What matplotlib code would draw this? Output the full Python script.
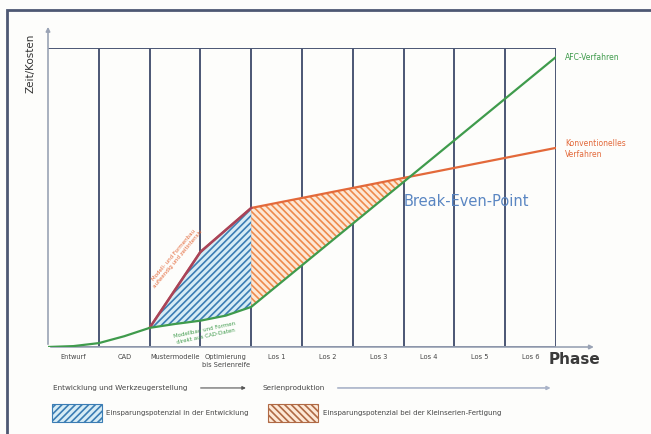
import matplotlib.pyplot as plt
from matplotlib.patches import Rectangle
import numpy as np

# phases (columns) and curve values (y: 0..100 of plot height)
phases = ["Entwurf", "CAD", "Mustermodelle", "Optimierung\nbis Serienreife",
          "Los 1", "Los 2", "Los 3", "Los 4", "Los 5", "Los 6"]

afc_x = [0, 0.5, 1, 1.5, 2, 2.5, 3, 3.5, 4, 10]
afc_y = [0, 0.3, 1.3, 3.6, 6.4, 7.7, 8.8, 10.5, 13.4, 97]

konv_x = [0, 0.5, 1, 1.5, 2, 3, 4, 10]
konv_y = [0, 0.3, 1.3, 3.6, 6.4, 31.8, 46.5, 66.6]

GREEN = "#3f9b4c"
ORANGE = "#e3693a"
DARKRED = "#a8435a"
GRID = "#4b5674"
TXT = "#454545"

plt.rcParams["hatch.linewidth"] = 1.2

fig = plt.figure(figsize=(6.51, 4.34), dpi=100, facecolor="#fdfdfb")
ax = fig.add_axes([48/651, 87/434, 508/651, 299/434])
ax.set_xlim(0, 10)
ax.set_ylim(0, 100)
ax.axis("off")

# column grid
for i in range(1, 11):
    ax.plot([i, i], [0, 100], color=GRID, lw=1.4, zorder=1)
ax.plot([0, 10], [100, 100], color=GRID, lw=1.4, zorder=1)

# axes with arrows
ax.annotate("", xy=(0, 108), xytext=(0, 0), xycoords="data",
            arrowprops=dict(arrowstyle="-|>", color="#9aa3b5", lw=1.2, mutation_scale=6),
            annotation_clip=False)
ax.annotate("", xy=(10.8, 0), xytext=(0, 0), xycoords="data",
            arrowprops=dict(arrowstyle="-|>", color="#9aa3b5", lw=1.2, mutation_scale=6),
            annotation_clip=False)
ax.plot([0, 10], [0, 0], color=GRID, lw=1.4, zorder=1)

# savings areas
xa = np.linspace(2, 4, 60)
ax.fill_between(xa, np.interp(xa, afc_x, afc_y), np.interp(xa, konv_x, konv_y),
                facecolor="#d6ecf5", edgecolor="#3b7db4", hatch="/////", lw=0, zorder=2)
xb = np.linspace(4, 7.08, 60)
ax.fill_between(xb, np.interp(xb, afc_x, afc_y), np.interp(xb, konv_x, konv_y),
                facecolor="#fde8d6", edgecolor="#ee8a4c", hatch="\\\\\\\\\\", lw=0, zorder=2)

# curves
ax.plot(konv_x[4:], konv_y[4:], color=ORANGE, lw=1.6, zorder=3)
ax.plot(konv_x[4:7], konv_y[4:7], color=DARKRED, lw=1.8, zorder=3)
ax.plot(afc_x, afc_y, color=GREEN, lw=1.6, zorder=4)

# labels
ax.text(-0.35, 95, "Zeit/Kosten", rotation=90, ha="center", va="center",
        fontsize=7.5, color="#333333")
ax.text(10.37, -4.3, "Phase", ha="center", va="center", fontsize=11,
        fontweight="bold", color="#3a3a3a")
ax.text(10.18, 96.7, "AFC-Verfahren", ha="left", va="center", fontsize=5.5, color=GREEN)
ax.text(10.18, 66.2, "Konventionelles\nVerfahren", ha="left", va="center",
        fontsize=5.5, color=ORANGE, linespacing=1.3)
ax.text(8.23, 48.5, "Break-Even-Point", ha="center", va="center", fontsize=10.5,
        color="#5a86c2")
ax.text(2.52, 30, "Modell- und Formenbau\naufwendig und zeitintensiv", rotation=50,
        ha="center", va="center", fontsize=4, color=ORANGE, linespacing=1.2)
ax.text(3.1, 4.6, "Modellbau und Formen\ndirekt aus CAD-Daten", rotation=12,
        ha="center", va="center", fontsize=4, color=GREEN, linespacing=1.2)

for i, name in enumerate(phases):
    ax.text(i + 0.5, -2.5, name, ha="center", va="top", fontsize=4.8,
            color=TXT, linespacing=1.4)

# phase rows
ax.text(0.1, -13.7, "Entwicklung und Werkzeugerstellung", ha="left", va="center",
        fontsize=5.2, color=TXT)
ax.annotate("", xy=(3.95, -13.7), xytext=(2.95, -13.7),
            arrowprops=dict(arrowstyle="-|>", color="#555555", lw=0.8, mutation_scale=5),
            annotation_clip=False)
ax.text(4.23, -13.7, "Serienproduktion", ha="left", va="center", fontsize=5.2, color=TXT)
ax.annotate("", xy=(9.95, -13.7), xytext=(5.65, -13.7),
            arrowprops=dict(arrowstyle="-|>", color="#a9b3c8", lw=1.2, mutation_scale=5),
            annotation_clip=False)

# legend boxes
ax.add_patch(Rectangle((0.08, -25.1), 0.98, 6.0, facecolor="#d6ecf5", edgecolor="#3b7db4",
                       hatch="/////", lw=0.8, clip_on=False))
ax.text(1.14, -22.1, "Einsparungspotenzial in der Entwicklung", ha="left", va="center",
        fontsize=5, color=TXT)
ax.add_patch(Rectangle((4.33, -25.1), 0.98, 6.0, facecolor="#fde8d6", edgecolor="#b06a45",
                       hatch="\\\\\\\\\\", lw=0.8, clip_on=False))
ax.text(5.42, -22.1, "Einsparungspotenzial bei der Kleinserien-Fertigung", ha="left",
        va="center", fontsize=5, color=TXT)

# outer frame
fig.add_artist(Rectangle((7/651, -0.1), 1.2, (424/434) + 0.1, transform=fig.transFigure,
                         fill=False, edgecolor="#4d5873", lw=2))

fig.savefig("out.png", dpi=100, facecolor=fig.get_facecolor())
